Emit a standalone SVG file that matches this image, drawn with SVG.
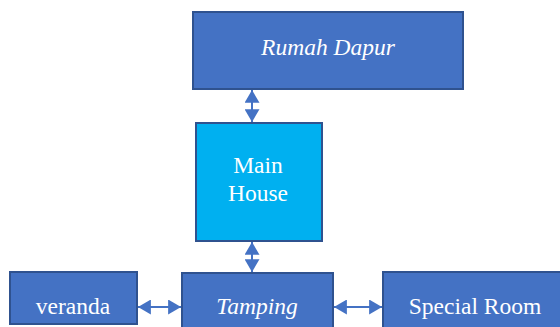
<svg xmlns="http://www.w3.org/2000/svg" width="560" height="327" viewBox="0 0 560 327">
<style>
.box{fill:#4472C4;stroke:#2F528F;stroke-width:2}
.main{fill:#00B0F0;stroke:#2F528F;stroke-width:2}
text{font-family:'Liberation Serif','Times New Roman',serif;font-size:23.5px;fill:#fff;text-anchor:middle}
.i{font-style:italic}
.c{stroke:#4472C4;stroke-width:2;fill:none;marker-start:url(#a);marker-end:url(#a)}
</style>
<defs>
<marker id="a" viewBox="0 0 12 14" refX="12" refY="7" markerWidth="6.5" markerHeight="7.5" orient="auto-start-reverse" markerUnits="strokeWidth">
<path d="M0,0L12,7L0,14z" fill="#4472C4"/>
</marker>
</defs>
<rect width="560" height="327" fill="#fff"/>
<g id="connectors">
<line class="c" x1="252" y1="90" x2="252" y2="122"/>
<line class="c" x1="252" y1="242" x2="252" y2="272"/>
<line class="c" x1="138" y1="307" x2="181" y2="307"/>
<line class="c" x1="334" y1="307" x2="382" y2="307"/>
</g>
<g id="rumah-dapur"><rect class="box" x="193" y="12" width="270" height="77"/><text class="i" x="328" y="55">Rumah Dapur</text></g>
<g id="main-house"><rect class="main" x="196" y="123" width="126" height="118"/><text x="258" y="173">Main</text><text x="258" y="201">House</text></g>
<g id="veranda"><rect class="box" x="10" y="272" width="127" height="52"/><text x="73" y="314">veranda</text></g>
<g id="tamping"><rect class="box" x="182" y="273" width="151" height="60"/><text class="i" x="257" y="314">Tamping</text></g>
<g id="special-room"><rect class="box" x="383" y="272" width="185" height="60"/><text x="475" y="314">Special Room</text></g>
</svg>
